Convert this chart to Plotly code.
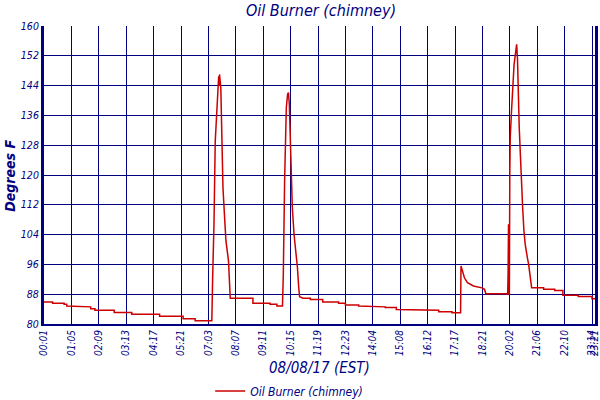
import plotly.graph_objects as go

# Relevés de la sonde : index d'échantillon et °F (coins des paliers inclus)
sample_idx = [
    0, 20, 20, 47, 47, 53, 53, 68, 68, 109, 109, 119, 119, 164, 164, 205,
    205, 270, 270, 325, 325, 353, 353, 392,
    394, 397, 400, 406, 408, 409, 410, 413, 416, 418, 421, 425, 431, 433, 435,
    488, 488, 528, 528, 544, 544, 557,
    559, 562, 566, 569, 571, 573, 575, 577, 580, 584, 592, 595, 597,
    605, 622, 622, 651, 651, 688, 688, 704, 704, 735, 735, 768, 768, 797,
    797, 823, 823, 871, 871, 922, 922, 953, 953, 973,
    974, 982, 989, 1003, 1023, 1029, 1032, 1083,
    1084, 1085, 1086, 1087, 1088, 1089, 1092, 1095, 1098, 1101, 1103, 1104,
    1106, 1107, 1110, 1113, 1115, 1118, 1121, 1124, 1129, 1132, 1136, 1139,
    1167, 1167, 1193, 1193, 1212, 1212, 1248, 1248, 1280, 1280, 1287,
]
temp_f = [
    85.9, 85.9, 85.6, 85.6, 85.3, 85.3, 84.8, 84.8, 84.6, 84.6, 84.1, 84.1, 83.7, 83.7, 83.1, 83.1,
    82.6, 82.6, 82.1, 82.1, 81.4, 81.4, 80.9, 80.9,
    92.9, 106.8, 129.1, 143.0, 146.5, 144.0, 147.0, 143.4, 124.6, 116.6, 110.3, 102.3, 96.9, 91.5, 86.9,
    86.9, 85.6, 85.6, 85.3, 85.3, 84.8, 84.8,
    93.3, 118.4, 138.1, 141.7, 142.1, 139.0, 129.6, 120.6, 111.3, 104.1, 95.1, 89.7, 87.3,
    86.9, 86.9, 86.6, 86.6, 85.9, 85.9, 85.6, 85.6, 85.1, 85.1, 84.8, 84.8, 84.6, 84.6,
    84.4, 84.4, 83.9, 83.9, 83.7, 83.7, 83.3, 83.3, 83.0, 83.0,
    95.6, 92.4, 91.1, 90.2, 89.7, 89.3, 88.1, 88.1,
    93.3, 106.8, 88.0, 88.0, 120.2, 130.0, 137.2, 143.9, 149.7, 152.4, 154.6, 155.1,
    151.0, 144.4, 132.8, 124.6, 117.5, 111.3, 105.0, 101.4, 97.8, 96.0, 92.4, 89.7,
    89.7, 89.3, 89.3, 89.0, 89.0, 87.7, 87.7, 87.4, 87.4, 86.8, 86.8,
]

# Axe des x : graduations tous les 64 échantillons
tick_idx = [0, 64, 128, 192, 256, 320, 384, 448, 512, 576, 640, 704, 768,
            832, 896, 960, 1024, 1088, 1152, 1216, 1280, 1287]
tick_txt = ["00:01", "01:05", "02:09", "03:13", "04:17", "05:21", "07:03",
            "08:07", "09:11", "10:15", "11:19", "12:23", "14:04", "15:08",
            "16:12", "17:17", "18:21", "20:02", "21:06", "22:10", "23:14", "23:21"]
y_ticks = [80, 88, 96, 104, 112, 120, 128, 136, 144, 152, 160]

NAVY = "#000080"
FONT = "Liberation Sans Narrow, DejaVu Sans Condensed, Liberation Sans"

fig = go.Figure()
fig.add_trace(go.Scatter(
    x=sample_idx, y=temp_f,
    mode="lines", line=dict(color="#cc0000", width=1.5),
    name="Oil Burner (chimney)",
))

fig.update_layout(
    width=600, height=410,
    margin=dict(l=44, r=5, t=26, b=79),
    paper_bgcolor="white", plot_bgcolor="white",
    font=dict(family=FONT, color=NAVY, style="italic"),
    title=dict(text="Oil Burner (chimney)", x=0.535, xanchor="center",
               y=0.975, yanchor="middle",
               font=dict(size=16, color=NAVY, family=FONT, style="italic")),
    showlegend=True,
    legend=dict(orientation="h", x=0.445, xanchor="center", y=-0.225, yanchor="middle",
                font=dict(size=12, color=NAVY, family=FONT, style="italic"),
                itemwidth=30, bgcolor="rgba(0,0,0,0)"),
)

fig.update_xaxes(
    range=[0, 1287], tickvals=tick_idx, ticktext=tick_txt, tickangle=-90,
    tickfont=dict(size=10, color=NAVY, family=FONT, style="italic"),
    showgrid=True, gridcolor=NAVY, gridwidth=1.2,
    showline=True, linecolor=NAVY, linewidth=2,
    zeroline=False, ticks="", layer="above traces", automargin=False,
    ticklabeloverflow="allow",
)
fig.update_yaxes(
    range=[80, 160], tickvals=y_ticks,
    tickfont=dict(size=10.5, color=NAVY, family=FONT, style="italic"),
    showgrid=True, gridcolor=NAVY, gridwidth=1.2,
    showline=True, linecolor=NAVY, linewidth=3, mirror=True,
    zeroline=False, ticks="", layer="above traces", automargin=False,
)

fig.add_annotation(text="08/08/17 (EST)", xref="paper", yref="paper",
                   x=0.5, y=-0.148, xanchor="center", yanchor="middle", showarrow=False,
                   font=dict(size=15, color=NAVY, family=FONT, style="italic"))
fig.add_annotation(text="<b>Degrees F</b>", xref="paper", yref="paper",
                   x=-0.062, y=0.497, xanchor="center", yanchor="middle", showarrow=False,
                   textangle=-90,
                   font=dict(size=14, color=NAVY, family=FONT, style="italic"))

# la page HTML par défaut garde une marge de 8 px autour du graphique
fig.write_html("out.html", config={"displayModeBar": False},
               post_script="document.body.style.margin = '0';")
